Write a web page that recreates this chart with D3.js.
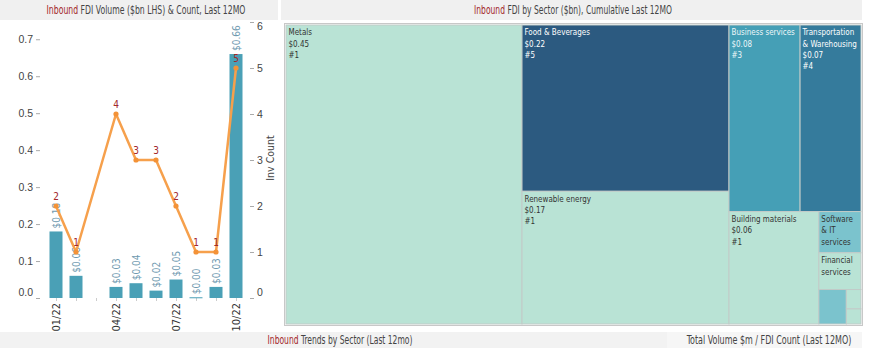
<!DOCTYPE html>
<html><head><meta charset="utf-8">
<script src="https://cdn.jsdelivr.net/npm/d3@7"></script>
<style>
html,body{margin:0;padding:0;background:#fff;}
svg{display:block;font-family:"DejaVu Sans Condensed","DejaVu Sans",sans-serif;}
</style></head><body>
<svg id="c" width="872" height="348"></svg>
<script>
// ---------- data ----------
const months = ["01/22","02/22","03/22","04/22","05/22","06/22","07/22","08/22","09/22","10/22"];
const volumes = [0.18, 0.06, null, 0.03, 0.04, 0.02, 0.05, 0.002, 0.03, 0.66];
const volumeLabels = ["$0.18","$0.06",null,"$0.03","$0.04","$0.02","$0.05","$0.00","$0.03","$0.66"];
const counts = [2, 1, null, 4, 3, 3, 2, 1, 1, 5];
const monthTickLabels = ["01/22","04/22","07/22","10/22"];
const leftTicks = [0, 0.1, 0.2, 0.3, 0.4, 0.5, 0.6, 0.7];
const rightTicks = [0, 1, 2, 3, 4, 5, 6];

const sectors = ["Metals","Food & Beverages","Renewable energy","Business services","Transportation & Warehousing","Building materials","Software & IT services","Financial services","Other 1","Other 2","Other 3"];
const sectorValues = [0.447, 0.218, 0.174, 0.084, 0.072, 0.064, 0.011, 0.0098, 0.006, 0.0018, 0.0014];
const sectorCounts = [1, 5, 1, 3, 4, 1, 2, 1, 2, 1, 1];

const titleLeft = ["Inbound", " FDI Volume ($bn LHS) & Count, Last 12MO"];
const titleRight = ["Inbound", " FDI by Sector ($bn), Cumulative Last 12MO"];
const footLeft = ["Inbound", " Trends by Sector (Last 12mo)"];
const footRight = ["", "Total Volume $m / FDI Count (Last 12MO)"];

// ---------- setup ----------
const svg = d3.select("#c");
const red = "#a3282b", txt = "#444";

function fitX(t, target, cx) {
  const w = t.node().getComputedTextLength();
  const k = Math.min(1, target / w);
  t.attr("transform", `translate(${cx},0) scale(${k},1) translate(${-cx},0)`);
}
function titled(parts, x, y, target) {
  const t = svg.append("text").attr("x", x).attr("y", y).attr("text-anchor","middle")
    .attr("font-size", 11.5).attr("fill", txt);
  if (parts[0]) t.append("tspan").attr("fill", red).text(parts[0]);
  t.append("tspan").text(parts[1]);
  fitX(t, target, x);
  return t;
}

// header/footer bands
svg.append("rect").attr("x",0).attr("y",0).attr("width",278).attr("height",20).attr("fill","#f0f0f0");
svg.append("rect").attr("x",281).attr("y",0).attr("width",581).attr("height",20).attr("fill","#f0f0f0");
svg.append("rect").attr("x",0).attr("y",332).attr("width",667).attr("height",16).attr("fill","#f2f2f2");
svg.append("rect").attr("x",667).attr("y",332).attr("width",195).attr("height",16).attr("fill","#f6f6f6");

titled(titleLeft, 146, 14, 199);
titled(titleRight, 573, 14, 198);
titled(footLeft, 340, 344, 145);
titled(footRight, 769, 344, 165);

// ---------- left combo chart ----------
const x = d3.scalePoint().domain(months).range([56, 236]);
const yL = d3.scaleLinear().domain([0, 0.7467]).range([298, 22]);
const yR = d3.scaleLinear().domain([0, 6]).range([298, 22]);
const barW = 13;

const axL = svg.append("g").attr("transform","translate(40,0)")
  .call(d3.axisLeft(yL).tickValues(leftTicks).tickFormat(d3.format(".1f")).tickSize(4).tickPadding(3));
const axR = svg.append("g").attr("transform","translate(250,0)")
  .call(d3.axisRight(yR).tickValues(rightTicks).tickFormat(d3.format("d")).tickSize(4).tickPadding(3));
[axL, axR].forEach(a => {
  a.select(".domain").remove();
  a.selectAll(".tick line").attr("stroke","#aaa");
  a.selectAll(".tick text").attr("fill",txt).attr("font-size",10.5).attr("font-family",null);
});
axL.selectAll(".tick text").filter(d => d === 0).attr("dy","-0.2em");
axR.selectAll(".tick text").filter(d => d === 0).attr("dy","-0.2em");
axR.selectAll(".tick text").filter(d => d === 6).attr("dy","0.75em");

svg.append("text").attr("transform","translate(274,158) rotate(-90)").attr("text-anchor","middle")
  .attr("font-size",10.5).attr("fill",txt).text("Inv Count");

// x ticks and labels
const axX = svg.append("g").attr("transform","translate(0,298)")
  .call(d3.axisBottom(x).tickSize(3).tickFormat(""));
axX.select(".domain").remove();
axX.selectAll(".tick line").attr("stroke","#ccc");
svg.selectAll("text.xl").data(monthTickLabels).join("text").attr("class","xl")
  .attr("transform", d => `translate(${x(d)+4},303) rotate(-90)`)
  .attr("text-anchor","end").attr("font-size",11).attr("fill","#333").text(d => d);

// bars
const barData = months.map((m,i) => ({m, v: volumes[i], lab: volumeLabels[i], c: counts[i]}));
svg.selectAll("rect.bar").data(barData.filter(d => d.v !== null)).join("rect").attr("class","bar")
  .attr("x", d => x(d.m) - barW/2).attr("width", barW)
  .attr("y", d => yL(d.v)).attr("height", d => Math.max(1, yL(0) - yL(d.v)))
  .attr("fill","#4aa0b6");
svg.selectAll("text.bl").data(barData.filter(d => d.v !== null)).join("text").attr("class","bl")
  .attr("transform", d => `translate(${x(d.m)+3.5},${yL(d.v)-3}) rotate(-90)`)
  .attr("font-size",10).attr("fill","#6f9ab0").text(d => d.lab);

// line
const pts = barData.filter(d => d.c !== null);
svg.append("path").datum(pts)
  .attr("d", d3.line().x(d => x(d.m)).y(d => yR(d.c)))
  .attr("fill","none").attr("stroke","#f6a04c").attr("stroke-width",2.5).attr("stroke-linejoin","round");
svg.selectAll("circle.pt").data(pts).join("circle").attr("class","pt")
  .attr("cx", d => x(d.m)).attr("cy", d => yR(d.c)).attr("r",2.6).attr("fill","#f39237");
svg.selectAll("text.cl").data(pts).join("text").attr("class","cl")
  .attr("x", d => x(d.m)).attr("y", d => yR(d.c) - 6).attr("text-anchor","middle")
  .attr("font-size",10).attr("fill",red).text(d => d.c);

// ---------- treemap ----------
svg.append("rect").attr("x",284.5).attr("y",23.5).attr("width",578).attr("height",302)
  .attr("fill","#fff").attr("stroke","#c8c8c8");
const root = d3.hierarchy({children: sectors.map((s,i) => ({name: s, value: sectorValues[i], count: sectorCounts[i]}))})
  .sum(d => d.value || 0).sort((a,b) => b.value - a.value);
d3.treemap().tile(d3.treemapSquarify).size([575, 299]).round(false)(root);
const color = d3.scaleOrdinal().domain([1,2,3,4,5]).range(["#b9e3d5","#7bc3cd","#459fb6","#357b9c","#2c5a80"]);
const tcol = d3.scaleOrdinal().domain([1,2,3,4,5]).range(["#333","#333","#eef7f9","#fff","#fff"]);
const fmt = d3.format("$.2f");
const sx = 0.84;
const tg = svg.append("g").attr("transform","translate(286,25)");
const cell = tg.selectAll("g").data(root.leaves()).join("g").attr("transform", d => `translate(${d.x0},${d.y0})`);
cell.append("rect").attr("width", d => d.x1 - d.x0).attr("height", d => d.y1 - d.y0)
  .attr("fill", d => color(d.data.count)).attr("stroke","#c2cbc8").attr("stroke-width",1);
cell.each(function(d) {
  const w = d.x1 - d.x0, h = d.y1 - d.y0;
  if (w < 35) return;
  const g = d3.select(this);
  const t = g.append("text").attr("font-size",9.5).attr("fill", tcol(d.data.count))
    .attr("transform", `scale(${sx},1)`);
  const words = d.data.name.split(" ");
  const lines = [];
  let cur = "";
  const probe = t.append("tspan");
  words.forEach(wd => {
    const test = cur ? cur + " " + wd : wd;
    probe.text(test);
    if (probe.node().getComputedTextLength() * sx > w - 3 && cur) { lines.push(cur); cur = wd; }
    else cur = test;
  });
  lines.push(cur);
  probe.remove();
  lines.push(fmt(d.data.value), "#" + d.data.count);
  lines.forEach((ln, i) => {
    const by = 10.5 + i * 11.3;
    if (by + 4 > h) return;
    t.append("tspan").attr("x", 2.5 / sx).attr("y", by).text(ln);
  });
});
</script>
</body></html>
